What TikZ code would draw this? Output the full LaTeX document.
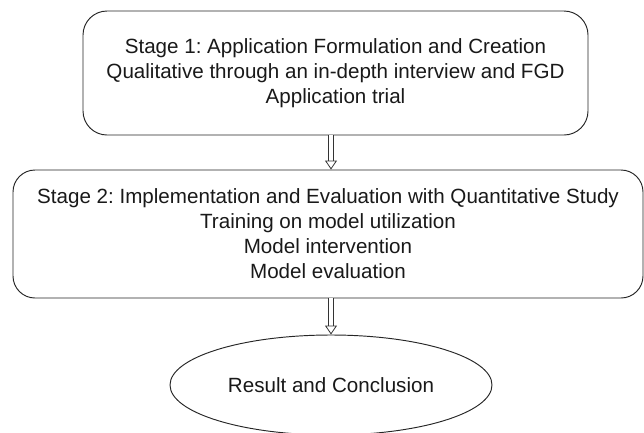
\documentclass[tikz,border=0pt]{standalone}
\usepackage{fontspec}
\setmainfont{Liberation Sans}
\frenchspacing
\usetikzlibrary{arrows.meta,shapes.geometric}

\tikzset{
  stagebox/.style={draw=black!85, line width=0.95pt, rounded corners=24pt, align=center,
    inner sep=0pt, font=\fontsize{20.6}{25}\selectfont, text=black!90},
  endoval/.style={draw=black!85, line width=0.95pt, ellipse, inner sep=0pt,
    font=\fontsize{20.6}{25}\selectfont, text=black!90},
  flow/.style={draw=black!80, double, double distance=4.5pt, line width=0.8pt,
    -{Triangle[open, width=12pt, length=9pt]}}
}

\begin{document}
\begin{tikzpicture}[x=1pt, y=-1pt]

		% Page frame
		\useasboundingbox (0,0) rectangle (644,432);

		% Stage 1 box
		\node[stagebox, minimum width=505pt, minimum height=124pt] (stageone) at (335.5,73)
		  {Stage 1: Application Formulation and Creation\\
		   Qualitative through an in-depth interview and FGD\\
		   Application trial};

		% Stage 2 box
		\node[stagebox, rounded corners=22pt, minimum width=630pt, minimum height=128pt] (stagetwo) at (328,234)
		  {Stage 2: Implementation and Evaluation with Quantitative Study\\
		   Training on model utilization\\
		   Model intervention\\
		   Model evaluation};

		% Final ellipse
		\node[endoval, minimum width=322pt, minimum height=100pt] (result) at (331,385)
		  {Result and Conclusion};

		% Hollow arrows between the stages
		\coordinate (axis) at (331,0);
		\draw[flow] (stageone.south -| axis) -- (stagetwo.north -| axis);
		\draw[flow] (stagetwo.south -| axis) -- (result.north -| axis);
	\end{tikzpicture}
\end{document}
